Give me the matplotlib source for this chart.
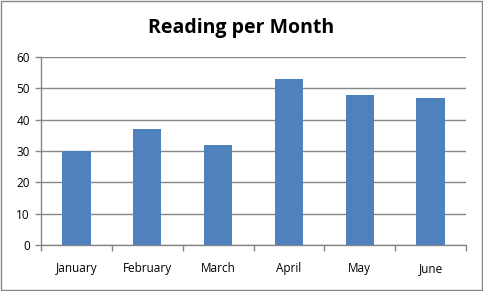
import matplotlib
matplotlib.use("Agg")
import matplotlib.pyplot as plt
import numpy as np

months = ["January", "February", "March", "April", "May", "June"]
values = [30, 37, 32, 53, 48, 47]
yticks = [0, 10, 20, 30, 40, 50, 60]

plt.rcParams['font.family'] = ['Open Sans', 'DejaVu Sans']
gray = "#868686"

fig = plt.figure(figsize=(4.83, 2.91), dpi=100)
fig.patches.append(plt.Rectangle((0.003, 0.004), 0.994, 0.992, transform=fig.transFigure,
                                 fill=False, edgecolor=gray, linewidth=1.0))
ax = fig.add_axes([0.0849, 0.158, 0.8799, 0.646])
x = np.arange(len(months))
ax.bar(x, values, width=0.4, color="#4F81BD", zorder=3)
ax.set_xlim(-0.5, len(months) - 0.5)
ax.set_ylim(0, 60)
ax.set_yticks(yticks)
ax.set_yticklabels([str(v) for v in yticks], fontsize=8.5)
ax.yaxis.grid(True, color=gray, linewidth=1.0, zorder=0)
ax.set_axisbelow(True)
for s in ["top", "right"]:
    ax.spines[s].set_visible(False)
for s in ["left", "bottom"]:
    ax.spines[s].set_color(gray)
    ax.spines[s].set_linewidth(1.0)
ax.tick_params(axis="y", length=4, color=gray, width=1, pad=4)
# boundary ticks
ax.set_xticks(np.arange(len(months) + 1) - 0.5)
ax.set_xticklabels([])
ax.tick_params(axis="x", which="major", length=4, color=gray, width=1)
ax.set_xticks(x, minor=True)
ax.set_xticklabels(months, minor=True, fontsize=8.5)
ax.tick_params(axis="x", which="minor", length=0, pad=12)
fig.text(0.5, 0.905, "Reading per Month", ha="center", va="center", fontsize=14, fontweight="bold")
fig.savefig("out.png", dpi=100)
